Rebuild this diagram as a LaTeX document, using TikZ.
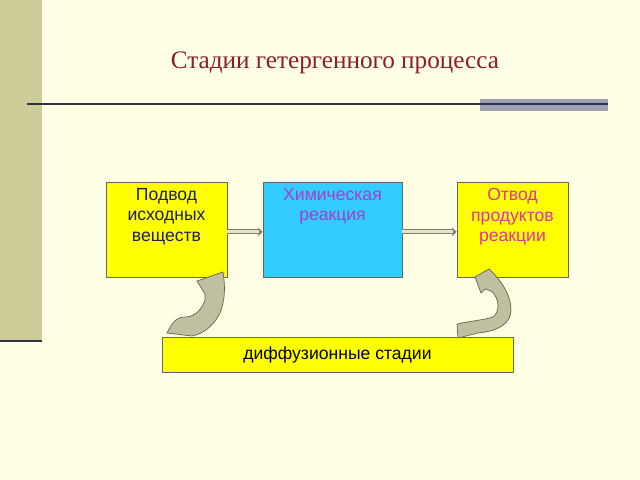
\documentclass[tikz,border=0pt]{standalone}
\usepackage{fontspec}
\setmainfont{Liberation Serif}
\setsansfont{Liberation Sans}
\usetikzlibrary{arrows.meta,positioning}

\definecolor{pagebg}{RGB}{255,255,229}
\definecolor{sidebar}{RGB}{204,204,153}
\definecolor{titlered}{RGB}{140,28,40}
\definecolor{rulegray}{RGB}{160,160,181}
\definecolor{ruledark}{RGB}{50,50,70}
\definecolor{stageyellow}{RGB}{255,255,0}
\definecolor{stagecyan}{RGB}{51,204,255}
\definecolor{navytext}{RGB}{30,30,100}
\definecolor{purpletext}{RGB}{170,60,200}
\definecolor{pinktext}{RGB}{230,50,160}
\definecolor{bentfill}{RGB}{192,192,160}
\definecolor{bentline}{RGB}{100,100,80}
\definecolor{flowline}{RGB}{130,124,100}
\definecolor{flowinner}{RGB}{232,228,200}

\begin{document}
\begin{tikzpicture}[x=0.03cm,y=-0.03cm,
	stagebox/.style={draw=black!60,line width=0.6pt,inner sep=0pt,minimum height=2.85cm},
	stagetext/.style={font=\sffamily\fontsize{15}{17.5}\selectfont,align=center,inner sep=0pt},
	flow/.style={draw=flowline,line width=1pt,double=flowinner,double distance=2.3pt,-{Stealth[length=4pt,width=7.5pt]}},
	bent/.style={fill=bentfill,draw=bentline,line width=0.6pt}]
	% page and frame
	\useasboundingbox (0,0) rectangle (640,480);
	\fill[pagebg] (0,0) rectangle (640,480);
	\fill[sidebar] (0,0) rectangle (42,340);
	\fill[ruledark] (0,339.5) rectangle (42,342);
	\fill[rulegray] (480,99) rectangle (608,111);
	\draw[ruledark,line width=1.6pt] (27,104) -- (608,104);
	\node[anchor=base,text=titlered,font=\fontsize{21.5}{26}\selectfont] (title) at (335,69) {Стадии гетергенного процесса};
	% stages
	\node[stagebox,fill=stageyellow,minimum width=3.63cm] (supply) at (166.5,229.5) {};
	\node[stagebox,fill=stagecyan,minimum width=4.17cm] (reaction) at (332.5,229.5) {};
	\node[stagebox,fill=stageyellow,minimum width=3.33cm] (removal) at (512.5,229.5) {};
	\node[stagetext,text=navytext,below=5.5pt of supply.north] (supplytext) {Подвод\\исходных\\веществ};
	\node[stagetext,text=purpletext,below=5.5pt of reaction.north] (reactiontext) {Химическая\\реакция};
	\node[stagetext,text=pinktext,below=5.5pt of removal.north] (removaltext) {Отвод\\продуктов\\реакции};
	\node[stagebox,fill=stageyellow,minimum width=10.53cm,minimum height=1.05cm,font=\sffamily\fontsize{15}{18}\selectfont] (diffusion) at (337.5,354.5) {диффузионные стадии};
	% flows
	\draw[flow] ([yshift=-2pt]supply.east) -- ([yshift=-2pt]reaction.west);
	\draw[flow] ([yshift=-2pt]reaction.east) -- ([yshift=-2pt]removal.west);
	% bent arrows
	\draw[bent] (167,333) .. controls (172,323) and (176,317) .. (185,317)
		.. controls (194,317) and (202,310) .. (205,300)
		-- (205,294) -- (197,281) -- (223,272)
		.. controls (225,285) and (226,300) .. (219,315)
		.. controls (213,326) and (203,334) .. (192,336) -- cycle;
	\draw[bent] (457,324) .. controls (470,321) and (484,320) .. (493,317)
		.. controls (500,312) and (500,298) .. (491,291)
		-- (485,289) -- (481,293) -- (475,277) -- (489,269)
		.. controls (501,280) and (511,295) .. (511,310)
		.. controls (511,323) and (499,331) .. (478,333)
		-- (458,338) -- cycle;
\end{tikzpicture}
\end{document}
